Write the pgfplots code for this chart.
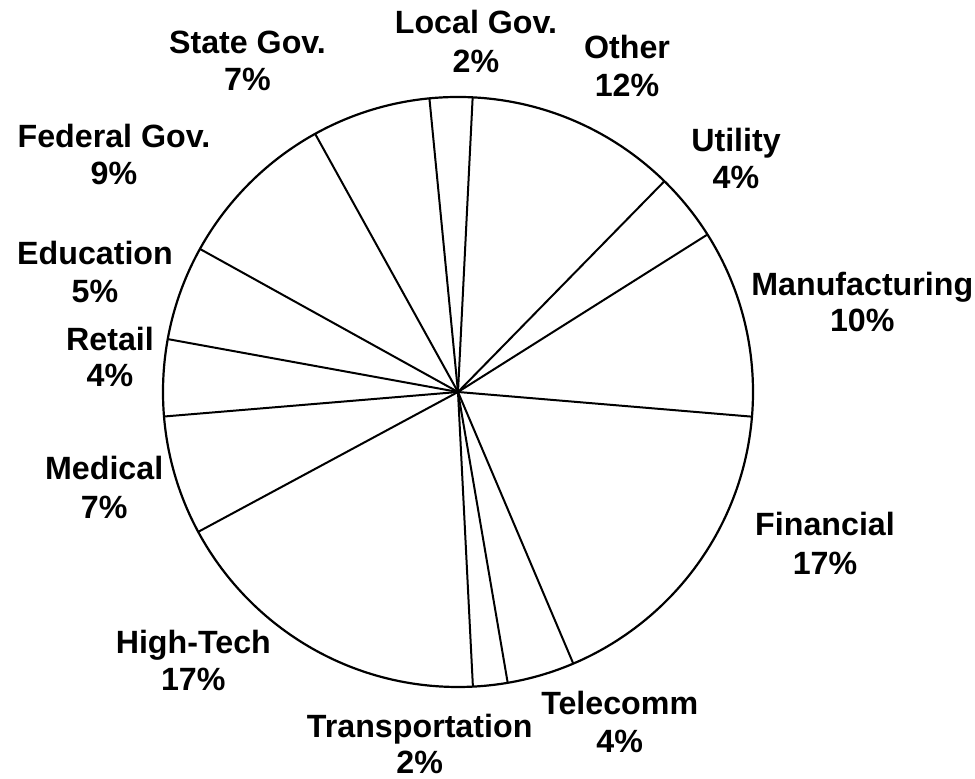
\documentclass[border=0pt]{standalone}
\usepackage{pgfplots}
\pgfplotsset{compat=1.18}
\usepgfplotslibrary{polar}
\usetikzlibrary{calc}
\usepackage{fontspec}
\setmainfont{Liberation Sans}
\begin{document}
\begin{tikzpicture}
\begin{polaraxis}[hide axis, width=295pt, height=295pt, scale only axis,
  ymin=0, ymax=1, xmin=0, xmax=360, clip=false]
  \coordinate (c) at (axis cs:0,0);
  \coordinate (e) at (axis cs:0,1);
  % sector boundaries (angle in degrees, radius 1)
  \addplot[black, line width=1pt, no marks] coordinates {(0,0) (87.15,1)};  % Other | Local Gov.
  \addplot[black, line width=1pt, no marks] coordinates {(0,0) (95.56,1)};  % Local Gov. | State Gov.
  \addplot[black, line width=1pt, no marks] coordinates {(0,0) (118.96,1)}; % State | Federal
  \addplot[black, line width=1pt, no marks] coordinates {(0,0) (151.0,1)};  % Federal | Education
  \addplot[black, line width=1pt, no marks] coordinates {(0,0) (169.67,1)}; % Education | Retail
  \addplot[black, line width=1pt, no marks] coordinates {(0,0) (184.77,1)}; % Retail | Medical
  \addplot[black, line width=1pt, no marks] coordinates {(0,0) (208.3,1)};  % Medical | High-Tech
  \addplot[black, line width=1pt, no marks] coordinates {(0,0) (272.9,1)};  % High-Tech | Transportation
  \addplot[black, line width=1pt, no marks] coordinates {(0,0) (279.7,1)};  % Transportation | Telecomm
  \addplot[black, line width=1pt, no marks] coordinates {(0,0) (293.0,1)};  % Telecomm | Financial
  \addplot[black, line width=1pt, no marks] coordinates {(0,0) (355.2,1)};  % Financial | Manufacturing
  \addplot[black, line width=1pt, no marks] coordinates {(0,0) (32.26,1)};  % Manufacturing | Utility
  \addplot[black, line width=1pt, no marks] coordinates {(0,0) (45.6,1)};   % Utility | Other
\end{polaraxis}
\draw[line width=1.1pt] let \p1=($(e)-(c)$) in (c) circle[radius={veclen(\x1,\y1)}];
\pgfresetboundingbox
\path[use as bounding box] ($(c)+(-229pt,196pt)$) rectangle ($(c)+(258.5pt,-193.5pt)$);
\begin{scope}[every node/.style={anchor=base, inner sep=0pt, font=\fontsize{16.1}{19}\selectfont\bfseries}]
  \node at ($(c)+(9pt,179pt)$) {Local Gov.};       \node at ($(c)+(9pt,159.5pt)$) {2\%};
  \node at ($(c)+(84.5pt,166.5pt)$) {Other};       \node at ($(c)+(84.5pt,147.5pt)$) {12\%};
  \node at ($(c)+(-105.25pt,169.35pt)$) {State Gov.}; \node at ($(c)+(-105.25pt,150.65pt)$) {7\%};
  \node at ($(c)+(139pt,120.15pt)$) {Utility};     \node at ($(c)+(139pt,101.5pt)$) {4\%};
  \node at ($(c)+(-172pt,122.35pt)$) {Federal Gov.}; \node at ($(c)+(-172pt,103.85pt)$) {9\%};
  \node at ($(c)+(-181.5pt,63.5pt)$) {Education};  \node at ($(c)+(-181.5pt,44.65pt)$) {5\%};
  \node at ($(c)+(202.15pt,48.15pt)$) {Manufacturing}; \node at ($(c)+(202.15pt,30.15pt)$) {10\%};
  \node at ($(c)+(-174pt,20.65pt)$) {Retail};      \node at ($(c)+(-174pt,2.65pt)$) {4\%};
  \node at ($(c)+(-176.9pt,-44pt)$) {Medical};     \node at ($(c)+(-176.9pt,-63.15pt)$) {7\%};
  \node at ($(c)+(183.5pt,-72pt)$) {Financial};    \node at ($(c)+(183.5pt,-91.5pt)$) {17\%};
  \node at ($(c)+(-132.35pt,-131pt)$) {High-Tech}; \node at ($(c)+(-132.35pt,-149.35pt)$) {17\%};
  \node at ($(c)+(80.85pt,-161.5pt)$) {Telecomm};  \node at ($(c)+(80.85pt,-180.35pt)$) {4\%};
  \node at ($(c)+(-19.15pt,-172.65pt)$) {Transportation}; \node at ($(c)+(-19.15pt,-190.85pt)$) {2\%};
\end{scope}
\end{tikzpicture}
\end{document}
